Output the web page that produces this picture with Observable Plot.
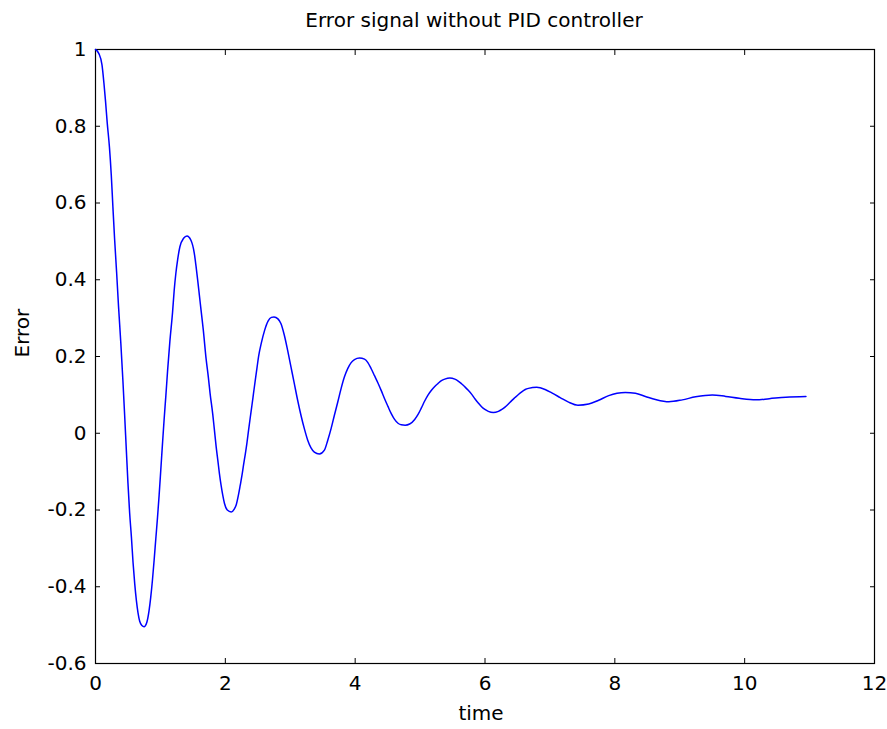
<!DOCTYPE html>
<html><head><meta charset="utf-8">
<script src="https://cdn.jsdelivr.net/npm/d3@7"></script>
<script src="https://cdn.jsdelivr.net/npm/@observablehq/plot@0.6"></script>
<style>body{margin:0;background:#fff}</style>
</head><body><div id="chart"></div>
<script>
const time = [0,0.05,0.10,0.13,0.155,0.18,0.215,0.243,0.268,0.294,0.325,0.355,0.39,0.423,0.449,0.475,0.5,0.526,0.553,0.578,0.604,0.63,0.655,0.681,0.715,0.748,0.79,0.825,0.851,0.877,0.903,0.929,0.955,0.98,1.006,1.032,1.057,1.084,1.11,1.146,1.187,1.212,1.238,1.265,1.3,1.357,1.409,1.47,1.522,1.548,1.574,1.6,1.625,1.66,1.703,1.739,1.765,1.806,1.832,1.858,1.884,1.909,1.935,1.961,1.987,2.03,2.09,2.14,2.167,2.203,2.229,2.256,2.28,2.307,2.333,2.358,2.384,2.41,2.435,2.461,2.488,2.513,2.554,2.605,2.658,2.71,2.75,2.81,2.856,2.908,2.96,3.011,3.062,3.114,3.165,3.217,3.269,3.32,3.371,3.448,3.526,3.578,3.629,3.68,3.733,3.784,3.835,3.887,3.938,3.989,4.067,4.144,4.196,4.247,4.298,4.351,4.402,4.453,4.505,4.556,4.607,4.66,4.71,4.77,4.839,4.917,4.969,5.02,5.071,5.124,5.175,5.226,5.278,5.329,5.38,5.458,5.535,5.587,5.638,5.689,5.742,5.793,5.844,5.896,5.947,5.998,6.051,6.128,6.206,6.26,6.308,6.36,6.411,6.462,6.515,6.566,6.62,6.669,6.797,6.926,7.029,7.158,7.287,7.432,7.597,7.751,7.906,8.034,8.162,8.317,8.471,8.626,8.833,9.039,9.244,9.502,9.708,9.915,10.172,10.379,10.635,10.944];
const error = [1.0,0.99,0.96,0.912,0.864,0.81,0.745,0.673,0.59,0.507,0.42,0.33,0.235,0.134,0.047,-0.044,-0.13,-0.208,-0.27,-0.336,-0.392,-0.436,-0.468,-0.49,-0.501,-0.504,-0.493,-0.462,-0.427,-0.383,-0.331,-0.275,-0.22,-0.162,-0.095,-0.027,0.036,0.098,0.162,0.24,0.315,0.372,0.417,0.452,0.486,0.508,0.514,0.503,0.469,0.436,0.399,0.36,0.322,0.27,0.195,0.145,0.104,0.05,0.008,-0.034,-0.07,-0.105,-0.136,-0.162,-0.183,-0.2,-0.205,-0.197,-0.187,-0.16,-0.136,-0.11,-0.083,-0.055,-0.025,0.008,0.041,0.073,0.105,0.138,0.171,0.201,0.235,0.268,0.292,0.302,0.303,0.298,0.286,0.256,0.216,0.173,0.13,0.086,0.047,0.012,-0.018,-0.038,-0.049,-0.054,-0.044,-0.018,0.012,0.047,0.082,0.117,0.147,0.169,0.184,0.192,0.196,0.193,0.184,0.168,0.15,0.131,0.111,0.09,0.07,0.051,0.036,0.026,0.022,0.021,0.024,0.036,0.049,0.066,0.084,0.1,0.112,0.122,0.13,0.137,0.141,0.144,0.141,0.136,0.129,0.121,0.112,0.102,0.09,0.079,0.069,0.062,0.057,0.054,0.057,0.062,0.068,0.076,0.085,0.093,0.101,0.108,0.114,0.117,0.12,0.114,0.105,0.093,0.081,0.073,0.076,0.086,0.098,0.104,0.106,0.104,0.096,0.088,0.082,0.087,0.095,0.1,0.096,0.091,0.087,0.09,0.094,0.096];
const xTicks = [0, 2, 4, 6, 8, 10, 12];
const yTicks = [-0.6, -0.4, -0.2, 0, 0.2, 0.4, 0.6, 0.8, 1];
const titleText = "Error signal without PID controller";
const xLabelText = "time";
const yLabelText = "Error";

const data = time.map((t, i) => ({t, e: error[i]}));
const fmt = d => String(+d.toFixed(1));
const blank = () => "";

const chart = Plot.plot({
  width: 887, height: 729,
  marginLeft: 95, marginRight: 13, marginTop: 49, marginBottom: 66,
  style: {fontFamily: "DejaVu Sans", fontSize: "20px", background: "white", color: "black"},
  x: {domain: [0, 12], label: null},
  y: {domain: [-0.6, 1], label: null},
  marks: [
    Plot.frame({stroke: "black", strokeWidth: 1.2}),
    Plot.axisX(xTicks, {anchor: "bottom", tickSize: -5, tickPadding: 17, tickFormat: fmt, label: null, fontSize: 20}),
    Plot.axisX(xTicks, {anchor: "top", tickSize: -5, tickFormat: blank, label: null}),
    Plot.axisY(yTicks, {anchor: "left", tickSize: -5, tickPadding: 14, tickFormat: fmt, label: null, fontSize: 20}),
    Plot.axisY(yTicks, {anchor: "right", tickSize: -5, tickFormat: blank, label: null}),
    Plot.line(data, {x: "t", y: "e", stroke: "#0000ff", strokeWidth: 1.5, curve: "monotone-x"}),
    Plot.text([titleText], {text: d => d, frameAnchor: "top", dy: -28.5, dx: -11, lineAnchor: "middle", fontSize: 20}),
    Plot.text([xLabelText], {text: d => d, frameAnchor: "bottom", dy: 50.5, dx: -4, lineAnchor: "middle", fontSize: 20}),
    Plot.text([yLabelText], {text: d => d, frameAnchor: "left", dx: -73, dy: 1, rotate: -90, lineAnchor: "middle", fontSize: 20})
  ]
});
document.getElementById("chart").append(chart);
</script>
</body></html>
